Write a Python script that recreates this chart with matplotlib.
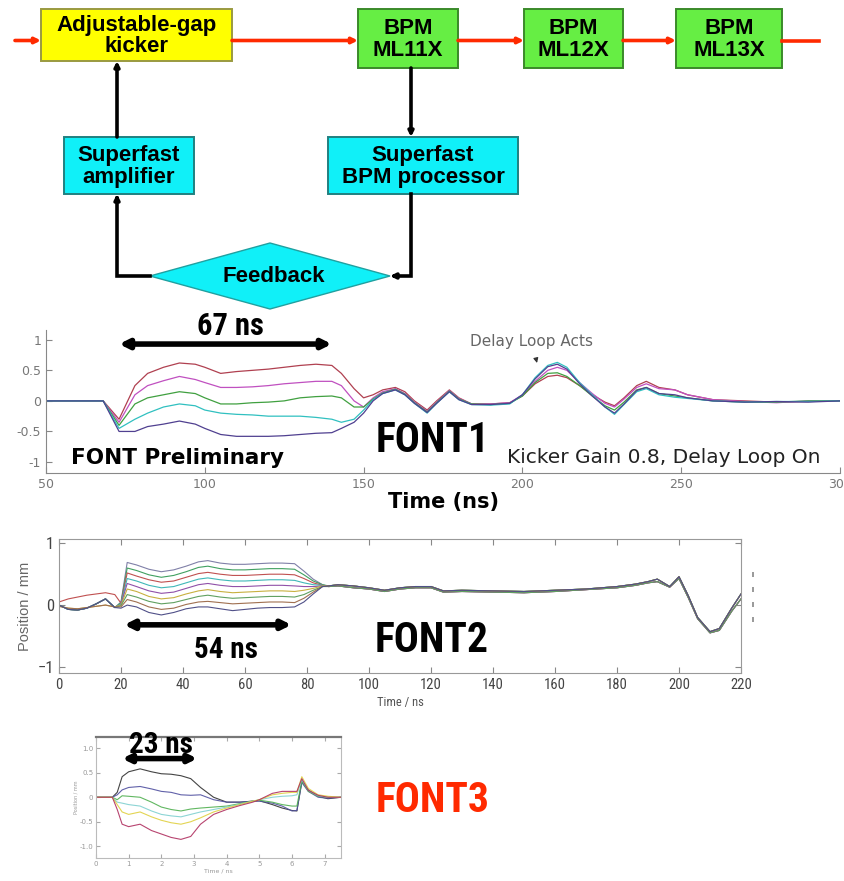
"""FONT feedback layout: beamline block diagram plus FONT1/FONT2/FONT3 traces."""

import matplotlib
matplotlib.use("Agg")
import matplotlib.pyplot as plt
from matplotlib import font_manager
from matplotlib.patches import Rectangle, Polygon

W, H = 844, 881


def _pick(*names):
    have = {f.name for f in font_manager.fontManager.ttflist}
    for n in names:
        if n in have:
            return n
    return "DejaVu Sans"


NARROW = _pick("Liberation Sans Narrow", "Roboto Condensed", "DejaVu Sans")
ARIAL = _pick("Liberation Sans", "DejaVu Sans")

# ---------------------------------------------------------------------------
# FONT1 traces (position vs time, ns)
# ---------------------------------------------------------------------------
font1_t = [50, 60, 68, 73, 78, 82, 87, 92, 97, 100, 105, 110, 115, 120, 125,
           130, 135, 140, 143, 147, 150, 153, 156, 160, 163, 166, 170, 173,
           177, 180, 184, 190, 196, 200, 204, 208, 211, 214, 218, 222, 226,
           229, 232, 236, 239, 243, 248, 252, 260, 270, 280, 290, 300]
font1_brown = [0, 0, 0, -0.3, 0.25, 0.45, 0.55, 0.62, 0.6, 0.55, 0.45, 0.48,
               0.5, 0.52, 0.55, 0.58, 0.6, 0.58, 0.45, 0.2, 0.05, 0.1, 0.18,
               0.22, 0.15, 0.0, -0.15, 0.0, 0.18, 0.05, -0.05, -0.05, -0.03,
               0.08, 0.28, 0.4, 0.42, 0.38, 0.25, 0.1, -0.02, -0.08, 0.05,
               0.25, 0.32, 0.22, 0.18, 0.1, 0.02, 0.0, -0.02, -0.01, 0.0]
font1_magenta = [0, 0, 0, -0.35, 0.1, 0.25, 0.33, 0.4, 0.35, 0.3, 0.22, 0.22,
                 0.23, 0.25, 0.28, 0.3, 0.32, 0.32, 0.25, 0.0, -0.1, 0.05,
                 0.15, 0.2, 0.12, -0.02, -0.17, -0.02, 0.17, 0.04, -0.05,
                 -0.05, -0.03, 0.1, 0.32, 0.5, 0.55, 0.5, 0.3, 0.12, -0.04,
                 -0.1, 0.03, 0.22, 0.28, 0.2, 0.18, 0.1, 0.02, -0.01, -0.03,
                 0.0, 0.0]
font1_green = [0, 0, 0, -0.4, -0.05, 0.05, 0.1, 0.15, 0.12, 0.05, -0.05,
               -0.05, -0.03, -0.02, 0.0, 0.05, 0.07, 0.08, 0.05, -0.1, -0.1,
               0.03, 0.13, 0.19, 0.11, -0.03, -0.18, -0.03, 0.16, 0.03, -0.05,
               -0.06, -0.04, 0.08, 0.3, 0.45, 0.46, 0.4, 0.25, 0.08, -0.08,
               -0.15, -0.02, 0.18, 0.22, 0.12, 0.08, 0.05, 0.0, -0.02, -0.02,
               0.0, 0.0]
font1_cyan = [0, 0, 0, -0.45, -0.3, -0.2, -0.1, -0.05, -0.08, -0.15, -0.2,
              -0.22, -0.23, -0.25, -0.25, -0.25, -0.27, -0.3, -0.35, -0.3,
              -0.15, 0.02, 0.12, 0.18, 0.1, -0.04, -0.2, -0.04, 0.15, 0.02,
              -0.06, -0.07, -0.05, 0.1, 0.38, 0.58, 0.63, 0.55, 0.3, 0.1, -0.1,
              -0.22, -0.06, 0.15, 0.2, 0.1, 0.06, 0.04, 0.0, -0.02, -0.01,
              -0.01, 0.0]
font1_dark = [0, 0, 0, -0.5, -0.5, -0.42, -0.38, -0.33, -0.38, -0.45, -0.55,
              -0.58, -0.58, -0.58, -0.57, -0.55, -0.53, -0.52, -0.45, -0.35,
              -0.2, 0.0, 0.12, 0.18, 0.1, -0.04, -0.19, -0.04, 0.15, 0.02,
              -0.06, -0.06, -0.04, 0.1, 0.36, 0.56, 0.6, 0.52, 0.28, 0.08, -0.1,
              -0.2, -0.05, 0.17, 0.22, 0.12, 0.1, 0.05, 0.0, -0.02, -0.01,
              -0.02, 0.0]
font1_series = [font1_brown, font1_magenta, font1_green, font1_cyan, font1_dark]
font1_colors = ["#b04050", "#c050c0", "#40a040", "#30c0c0", "#504090"]
font1_span = (73, 140)          # 67 ns kick window
font1_xticks = [50, 100, 150, 200, 250, 300]
font1_yticks = [-1, -0.5, 0, 0.5, 1]

# ---------------------------------------------------------------------------
# FONT2 traces
# ---------------------------------------------------------------------------
font2_head_t = [0, 3, 6, 9, 12, 15, 18]
font2_head_dip = [0.0, -0.07, -0.08, -0.05, 0.02, 0.1, -0.04]
font2_head_rise = [0.05, 0.1, 0.13, 0.16, 0.18, 0.2, 0.17]
font2_head_flat = [-0.02, -0.05, -0.06, -0.04, -0.02, 0.0, -0.03]

font2_mid_t = [20, 22, 25, 29, 33, 37, 41, 45, 48, 52, 56, 60, 64, 68, 72,
               76, 79, 82, 85]
font2_mid = [
    [0.05, 0.69, 0.65, 0.58, 0.54, 0.57, 0.63, 0.70, 0.72, 0.68, 0.66, 0.66, 0.67, 0.68, 0.68, 0.67, 0.55, 0.42, 0.33],
    [0.04, 0.60, 0.56, 0.49, 0.45, 0.48, 0.54, 0.61, 0.63, 0.59, 0.57, 0.57, 0.58, 0.59, 0.59, 0.58, 0.49, 0.39, 0.33],
    [0.03, 0.52, 0.47, 0.41, 0.37, 0.39, 0.45, 0.51, 0.53, 0.50, 0.48, 0.48, 0.49, 0.50, 0.50, 0.49, 0.43, 0.36, 0.32],
    [0.02, 0.43, 0.39, 0.32, 0.28, 0.30, 0.36, 0.42, 0.44, 0.41, 0.39, 0.39, 0.40, 0.41, 0.41, 0.40, 0.36, 0.33, 0.32],
    [0.01, 0.35, 0.30, 0.23, 0.19, 0.21, 0.27, 0.33, 0.35, 0.32, 0.30, 0.30, 0.31, 0.32, 0.32, 0.31, 0.30, 0.30, 0.31],
    [0.00, 0.26, 0.22, 0.14, 0.10, 0.12, 0.18, 0.23, 0.25, 0.22, 0.20, 0.21, 0.22, 0.23, 0.23, 0.22, 0.24, 0.27, 0.31],
    [-0.01, 0.17, 0.13, 0.06, 0.02, 0.04, 0.09, 0.14, 0.16, 0.13, 0.11, 0.12, 0.13, 0.14, 0.14, 0.13, 0.17, 0.24, 0.30],
    [-0.03, 0.09, 0.05, -0.03, -0.07, -0.05, 0.01, 0.05, 0.06, 0.04, 0.02, 0.03, 0.04, 0.05, 0.05, 0.04, 0.11, 0.21, 0.30],
    [-0.05, 0.00, -0.03, -0.12, -0.16, -0.12, -0.06, -0.03, -0.03, -0.06, -0.09, -0.07, -0.05, -0.04, -0.04, -0.03, 0.05, 0.18, 0.30],
]

font2_tail_t = [87, 90, 95, 100, 105, 110, 115, 120, 124, 130, 140, 150, 160,
                170, 180, 186, 190, 193, 197, 200, 203, 206, 210, 213, 217, 220]
font2_tail_a = [0.31, 0.33, 0.31, 0.28, 0.24, 0.28, 0.3, 0.3, 0.23, 0.24, 0.23,
                0.22, 0.24, 0.26, 0.3, 0.34, 0.38, 0.42, 0.3, 0.46, 0.15, -0.2,
                -0.43, -0.38, -0.05, 0.18]
font2_tail_b = [0.3, 0.31, 0.28, 0.26, 0.22, 0.26, 0.28, 0.28, 0.21, 0.22,
                0.21, 0.2, 0.22, 0.25, 0.28, 0.32, 0.36, 0.38, 0.29, 0.43, 0.12,
                -0.22, -0.45, -0.41, -0.1, 0.1]

font2_heads = [font2_head_dip, font2_head_dip, font2_head_rise, font2_head_dip,
               font2_head_dip, font2_head_flat, font2_head_dip, font2_head_flat,
               font2_head_dip]
font2_tails = [font2_tail_b, font2_tail_a, font2_tail_b, font2_tail_a,
               font2_tail_b, font2_tail_a, font2_tail_b, font2_tail_a,
               font2_tail_a]
font2_colors = ["#8080a8", "#40a060", "#c05050", "#40b8b8", "#9050a8",
                "#c8b040", "#60a060", "#a07050", "#505088"]
font2_span = (21, 75)           # 54 ns kick window
font2_xticks = list(range(0, 221, 20))
font2_yticks = [-1, 0, 1]

# ---------------------------------------------------------------------------
# FONT3 traces (time axis in units of 10 ns)
# ---------------------------------------------------------------------------
font3_t = [0, 0.3, 0.5, 0.65, 0.8, 1.0, 1.35, 1.7, 2.0, 2.3, 2.6, 2.9, 3.2,
           3.6, 4.0, 4.4, 4.8, 5.0, 5.4, 5.7, 6.0, 6.15, 6.3, 6.5, 6.8, 7.1, 7.5]
font3_black = [0, 0, 0, 0.1, 0.42, 0.52, 0.58, 0.52, 0.48, 0.47, 0.44, 0.38,
               0.2, 0.0, -0.1, -0.1, -0.08, -0.07, -0.15, -0.22, -0.27, -0.28,
               0.32, 0.15, 0.02, -0.03, 0.0]
font3_purple = [0, 0, 0, 0.05, 0.15, 0.2, 0.22, 0.17, 0.12, 0.1, 0.05, 0.04,
                0.05, -0.05, -0.1, -0.1, -0.08, -0.08, -0.12, -0.18, -0.28,
                -0.27, 0.3, 0.12, 0.0, -0.02, 0.0]
font3_green = [0, 0, 0, -0.05, 0.03, 0.02, 0.0, -0.1, -0.2, -0.25, -0.28,
               -0.24, -0.22, -0.2, -0.18, -0.13, -0.08, -0.06, -0.1, -0.15,
               -0.18, -0.18, 0.33, 0.12, 0.02, 0.0, 0.0]
font3_cyan = [0, 0, 0, -0.1, -0.12, -0.15, -0.18, -0.28, -0.35, -0.38, -0.4,
              -0.35, -0.3, -0.25, -0.2, -0.14, -0.08, -0.05, 0.0, 0.02, 0.03,
              0.05, 0.36, 0.14, 0.03, 0.0, 0.0]
font3_yellow = [0, 0, 0, -0.15, -0.3, -0.35, -0.3, -0.4, -0.47, -0.52, -0.55,
                -0.5, -0.42, -0.3, -0.22, -0.15, -0.08, -0.05, 0.05, 0.08, 0.1,
                0.1, 0.42, 0.18, 0.05, 0.02, 0.0]
font3_red = [0, 0, 0, -0.25, -0.55, -0.6, -0.55, -0.68, -0.75, -0.82, -0.86,
             -0.8, -0.55, -0.35, -0.25, -0.17, -0.1, -0.05, 0.08, 0.12, 0.12,
             0.12, 0.38, 0.14, 0.04, 0.0, 0.0]
font3_series = [font3_black, font3_purple, font3_green, font3_cyan,
                font3_yellow, font3_red]
font3_colors = ["#303030", "#5050a0", "#50b050", "#80d0d0", "#e0d040", "#b03060"]
font3_span = (0.8, 3.1)         # 23 ns kick window
font3_xticks = [0, 1, 2, 3, 4, 5, 6, 7]
font3_yticks = [-1, -0.5, 0, 0.5, 1]
font3_yticklabels = ["-1.0", "-0.5", "0", "0.5", "1.0"]


def _box(left, top, right, bottom):
    """Pixel rectangle -> figure-fraction rect."""
    return [left / W, 1 - bottom / H, (right - left) / W, (bottom - top) / H]


def _span_arrow(ax, span, y, scale):
    ax.annotate("", xy=(span[1], y), xytext=(span[0], y),
                arrowprops=dict(arrowstyle="<|-|>", lw=4, color="black",
                                mutation_scale=scale, shrinkA=0, shrinkB=0),
                annotation_clip=False)


fig = plt.figure(figsize=(W / 100, H / 100), dpi=100)

# ---------------------------------------------------------------------------
# FONT1 panel
# ---------------------------------------------------------------------------
ax1 = fig.add_axes(_box(46, 330, 840, 473))
for ys, c in zip(font1_series, font1_colors):
    ax1.plot(font1_t, ys, color=c, lw=0.9)
ax1.set_xlim(50, 300)
ax1.set_ylim(-1.18, 1.16)
ax1.set_xticks(font1_xticks)
ax1.set_yticks(font1_yticks)
ax1.set_yticklabels(["-1", "-0.5", "0", "0.5", "1"])
for s in ("top", "right"):
    ax1.spines[s].set_visible(False)
for s in ("left", "bottom"):
    ax1.spines[s].set_color("#888888")
ax1.tick_params(direction="in", length=4, color="#888888", labelsize=9,
                labelcolor="#777777")
ax1.set_xlabel("Time (ns)", fontsize=15, fontweight="bold", labelpad=1)
ax1.annotate("Delay Loop Acts", xy=(204.6, 0.62), xytext=(203, 0.97),
             ha="center", va="center", fontsize=11, color="#666666",
             arrowprops=dict(arrowstyle="-|>", color="#333333", lw=0.8,
                             mutation_scale=7, shrinkA=6, shrinkB=0))
ax1.text(58, -0.93, "FONT Preliminary", fontsize=15.5, fontweight="bold",
         va="center", ha="left")
ax1.text(244.5, -0.93, "Kicker Gain 0.8, Delay Loop On", fontsize=14.5,
         va="center", ha="center", color="#222222")
_span_arrow(ax1, font1_span, 0.93, 13)

# ---------------------------------------------------------------------------
# FONT2 panel
# ---------------------------------------------------------------------------
ax2 = fig.add_axes(_box(59, 539, 741, 673))
for head, mid, tail, c in zip(font2_heads, font2_mid, font2_tails, font2_colors):
    ax2.plot(font2_head_t + font2_mid_t + font2_tail_t, head + mid + tail,
             color=c, lw=0.8)
ax2.set_xlim(0, 220)
ax2.set_ylim(-1.1, 1.07)
ax2.set_xticks(font2_xticks)
ax2.set_yticks(font2_yticks)
for s in ax2.spines.values():
    s.set_color("#999999")
ax2.tick_params(direction="in", length=4, color="#888888", top=True,
                right=True, labelcolor="#444444")
for lab in ax2.get_xticklabels():
    lab.set_fontfamily(NARROW)
    lab.set_fontsize(10.5)
for lab in ax2.get_yticklabels():
    lab.set_fontfamily(NARROW)
    lab.set_fontsize(12)
ax2.set_xlabel("Time / ns", fontsize=9, family=NARROW, color="#555555",
               labelpad=3)
ax2.set_ylabel("Position / mm", fontsize=10.5, family=ARIAL, color="#666666",
               labelpad=4)
_span_arrow(ax2, font2_span, -0.32, 13)

# ---------------------------------------------------------------------------
# FONT3 panel
# ---------------------------------------------------------------------------
ax3 = fig.add_axes(_box(96, 737, 341, 858))
for ys, c in zip(font3_series, font3_colors):
    ax3.plot(font3_t, ys, color=c, lw=0.8, alpha=0.9)
ax3.set_xlim(0, 7.5)
ax3.set_ylim(-1.24, 1.23)
ax3.set_xticks(font3_xticks)
ax3.set_yticks(font3_yticks)
ax3.set_yticklabels(font3_yticklabels)
for s in ax3.spines.values():
    s.set_color("#bbbbbb")
ax3.spines["top"].set_color("#777777")
ax3.spines["top"].set_linewidth(1.6)
ax3.tick_params(direction="in", length=3, color="#aaaaaa", top=True,
                right=True, labelsize=5, labelcolor="#999999", pad=2)
ax3.set_xlabel("Time / ns", fontsize=4.5, color="#999999", labelpad=1)
ax3.set_ylabel("Position / mm", fontsize=3.5, color="#999999", labelpad=1)
_span_arrow(ax3, font3_span, 0.79, 11)

# ---------------------------------------------------------------------------
# Block diagram and free labels, drawn in pixel space on top
# ---------------------------------------------------------------------------
ov = fig.add_axes([0, 0, 1, 1])
ov.set_xlim(0, W)
ov.set_ylim(H, 0)
ov.axis("off")
ov.patch.set_alpha(0)
ov.set_zorder(10)

RED = "#ff2a00"
beam_y = 40.5
# beamline segments, each ending in an arrow at the next element
for x0, x1 in [(15, 41), (232, 358), (458, 524), (623, 676)]:
    ov.annotate("", xy=(x1, beam_y), xytext=(x0, beam_y),
                arrowprops=dict(arrowstyle="-|>", color=RED, lw=2.6,
                                mutation_scale=8, shrinkA=0, shrinkB=0))
ov.plot([782, 819], [beam_y, beam_y], color=RED, lw=2.6)

boxes = [
    (41, 9, 232, 61, "#ffff00", "#9a9a40", "Adjustable-gap\nkicker"),
    (358, 9, 458, 68, "#66ee44", "#3a8a2a", "BPM\nML11X"),
    (524, 9, 623, 68, "#66ee44", "#3a8a2a", "BPM\nML12X"),
    (676, 9, 782, 68, "#66ee44", "#3a8a2a", "BPM\nML13X"),
    (64, 137, 194, 194, "#10f0f8", "#208080", "Superfast\namplifier"),
    (328, 137, 518, 194, "#10f0f8", "#208080", "Superfast\nBPM processor"),
]
for l, t, r, b, fc, ec, label in boxes:
    ov.add_patch(Rectangle((l, t), r - l, b - t, facecolor=fc, edgecolor=ec,
                           lw=1.4))
    ov.text((l + r) / 2, (t + b) / 2 + 1, label, ha="center", va="center",
            fontsize=16, fontweight="bold", family=ARIAL, linespacing=1.0)

ov.add_patch(Polygon([(150, 276), (270, 243), (390, 276), (270, 309)],
                     closed=True, facecolor="#10f0f8", edgecolor="#20a0a0",
                     lw=1.0))
ov.text(274, 276, "Feedback", ha="center", va="center", fontsize=16,
        fontweight="bold", family=ARIAL)

# feedback signal paths
black_arrow = dict(arrowstyle="-|>", color="black", lw=2.6, mutation_scale=7,
                   shrinkA=0, shrinkB=0)
ov.annotate("", xy=(117, 61), xytext=(117, 137), arrowprops=black_arrow)
ov.plot([150, 117, 117], [276, 276, 200], color="black", lw=2.6,
        solid_joinstyle="miter")
ov.annotate("", xy=(117, 194), xytext=(117, 201), arrowprops=black_arrow)
ov.annotate("", xy=(411, 137), xytext=(411, 68), arrowprops=black_arrow)
ov.plot([411, 411, 397], [194, 276, 276], color="black", lw=2.6,
        solid_joinstyle="miter")
ov.annotate("", xy=(390, 276), xytext=(398, 276), arrowprops=black_arrow)

# panel names and span labels
ov.text(433, 440, "FONT1", ha="center", va="center", fontsize=30,
        fontweight="bold", family=NARROW)
ov.text(432, 640, "FONT2", ha="center", va="center", fontsize=30,
        fontweight="bold", family=NARROW)
ov.text(433, 800, "FONT3", ha="center", va="center", fontsize=30,
        fontweight="bold", family=NARROW, color="#ff2a00")
ov.text(230, 326, "67 ns", ha="center", va="center", fontsize=22,
        fontweight="bold", family=NARROW)
ov.text(226, 650, "54 ns", ha="center", va="center", fontsize=21,
        fontweight="bold", family=NARROW)
ov.text(161, 745, "23 ns", ha="center", va="center", fontsize=21,
        fontweight="bold", family=NARROW)

# clipped legend stub beside the FONT2 frame
ov.plot([753, 753], [572, 630], color="#888888", lw=1.2, ls=(0, (3, 6)))

fig.savefig("out.png", dpi=100)
